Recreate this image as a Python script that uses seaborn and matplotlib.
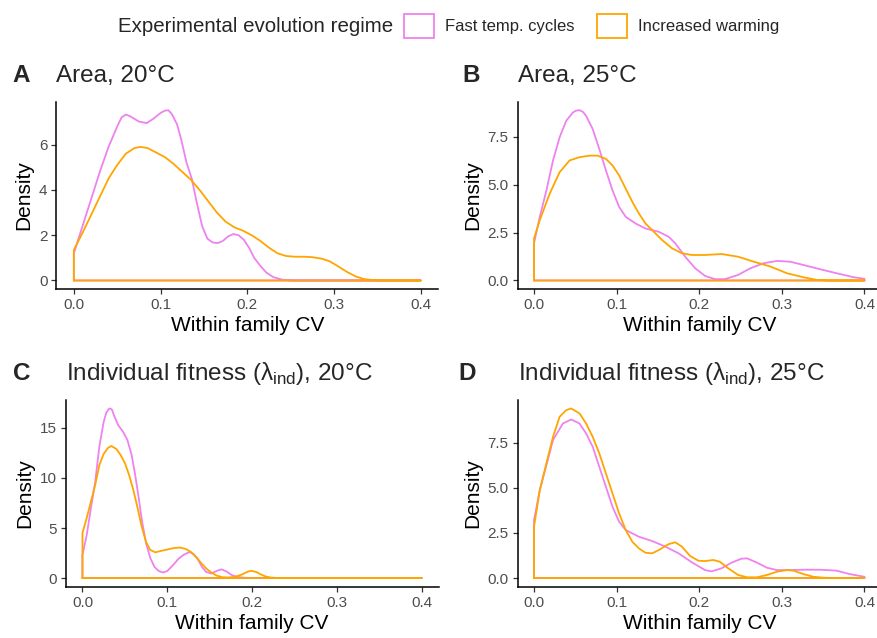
import matplotlib
matplotlib.use("Agg")
import matplotlib.pyplot as plt
from matplotlib.patches import Patch
from matplotlib.ticker import MultipleLocator, FormatStrFormatter
import pandas as pd
import seaborn as sns

REGIMES = ["Fast temp. cycles", "Increased warming"]
COLORS = {"Fast temp. cycles": "violet", "Increased warming": "orange"}

# ---- Area, 20 C ----
area20_fast_cv = [0, 0.01, 0.02, 0.03, 0.04, 0.05, 0.055, 0.06, 0.065, 0.075, 0.084, 0.092,
                  0.1, 0.105, 0.109, 0.113, 0.119, 0.124, 0.13, 0.136, 0.142, 0.148, 0.154,
                  0.16, 0.166, 0.172, 0.178, 0.184, 0.19, 0.196, 0.202, 0.208, 0.215, 0.222,
                  0.23, 0.24, 0.25, 0.4]
area20_fast_dens = [1.2, 2.4, 3.6, 4.8, 5.9, 6.8, 7.2, 7.33, 7.25, 7.02, 6.95, 7.15,
                    7.4, 7.5, 7.52, 7.35, 6.9, 6.2, 5.2, 4.5, 3.4, 2.4, 1.85,
                    1.68, 1.65, 1.75, 1.95, 2.05, 2.0, 1.8, 1.45, 1.0, 0.65, 0.35,
                    0.15, 0.04, 0.0, 0.0]
area20_warm_cv = [0, 0.01, 0.02, 0.03, 0.04, 0.05, 0.06, 0.07, 0.077, 0.085, 0.095, 0.105,
                  0.115, 0.125, 0.135, 0.145, 0.155, 0.165, 0.175, 0.185, 0.195, 0.205,
                  0.215, 0.225, 0.235, 0.245, 0.255, 0.265, 0.275, 0.285, 0.295, 0.305,
                  0.315, 0.325, 0.335, 0.345, 0.355, 0.4]
area20_warm_dens = [1.35, 2.1, 2.9, 3.7, 4.5, 5.1, 5.6, 5.85, 5.9, 5.85, 5.65, 5.45,
                    5.15, 4.8, 4.45, 4.0, 3.5, 3.0, 2.6, 2.35, 2.2, 2.0,
                    1.75, 1.45, 1.2, 1.08, 1.05, 1.05, 1.03, 0.97, 0.85, 0.62,
                    0.38, 0.18, 0.06, 0.02, 0.0, 0.0]

# ---- Area, 25 C ----
area25_fast_cv = [0, 0.007, 0.015, 0.023, 0.031, 0.039, 0.047, 0.051, 0.055, 0.059, 0.063,
                  0.071, 0.079, 0.087, 0.095, 0.103, 0.111, 0.123, 0.135, 0.151, 0.163,
                  0.171, 0.183, 0.195, 0.207, 0.219, 0.231, 0.247, 0.262, 0.278, 0.294,
                  0.31, 0.326, 0.346, 0.366, 0.387, 0.4]
area25_fast_dens = [1.94, 3.32, 4.7, 6.26, 7.47, 8.33, 8.76, 8.86, 8.88, 8.8, 8.59,
                    7.9, 6.86, 5.74, 4.7, 3.84, 3.32, 2.97, 2.71, 2.54, 2.28,
                    1.94, 1.24, 0.64, 0.24, 0.07, 0.07, 0.29, 0.64, 0.9, 1.02,
                    0.98, 0.81, 0.59, 0.38, 0.17, 0.09]
area25_warm_cv = [0, 0.007, 0.019, 0.031, 0.043, 0.055, 0.067, 0.077, 0.087, 0.095, 0.103,
                  0.111, 0.119, 0.127, 0.135, 0.145, 0.155, 0.167, 0.179, 0.191, 0.207,
                  0.227, 0.247, 0.266, 0.286, 0.306, 0.326, 0.342, 0.355, 0.4]
area25_warm_dens = [2.19, 3.15, 4.53, 5.65, 6.26, 6.43, 6.51, 6.51, 6.34, 6.0, 5.48,
                    4.79, 4.1, 3.49, 2.97, 2.54, 2.11, 1.68, 1.42, 1.33, 1.33,
                    1.38, 1.24, 0.98, 0.73, 0.38, 0.17, 0.03, 0.0, 0.0]

# ---- Individual fitness, 20 C ----
fit20_fast_cv = [0, 0.005, 0.01, 0.015, 0.02, 0.025, 0.028, 0.031, 0.033, 0.035, 0.037,
                 0.042, 0.048, 0.053, 0.058, 0.062, 0.066, 0.07, 0.075, 0.08, 0.085, 0.09,
                 0.095, 0.1, 0.107, 0.113, 0.119, 0.126, 0.131, 0.136, 0.141, 0.146,
                 0.152, 0.158, 0.164, 0.17, 0.176, 0.182, 0.19, 0.2, 0.4]
fit20_fast_dens = [2.3, 4.3, 7.0, 9.6, 13.2, 15.6, 16.5, 16.9, 16.95, 16.8, 16.3,
                   15.3, 14.6, 13.8, 12.3, 10.4, 8.2, 5.8, 3.5, 2.0, 1.1, 0.7,
                   0.55, 0.7, 1.3, 1.9, 2.3, 2.6, 2.4, 1.9, 1.1, 0.6,
                   0.45, 0.7, 0.87, 0.65, 0.3, 0.12, 0.03, 0.0, 0.0]
fit20_warm_cv = [0, 0.005, 0.01, 0.015, 0.02, 0.025, 0.03, 0.034, 0.04, 0.045, 0.05,
                 0.055, 0.06, 0.065, 0.07, 0.075, 0.08, 0.086, 0.092, 0.1, 0.108, 0.115,
                 0.122, 0.128, 0.134, 0.14, 0.146, 0.152, 0.158, 0.165, 0.172, 0.18,
                 0.188, 0.194, 0.199, 0.205, 0.21, 0.216, 0.222, 0.23, 0.4]
fit20_warm_dens = [4.5, 6.0, 7.65, 9.3, 11.3, 12.4, 13.0, 13.2, 12.9, 12.3, 11.5,
                   10.3, 8.8, 7.0, 5.1, 3.6, 2.8, 2.57, 2.7, 2.85, 3.0, 3.05,
                   2.9, 2.6, 2.1, 1.5, 0.95, 0.55, 0.25, 0.08, 0.05, 0.12,
                   0.35, 0.6, 0.73, 0.6, 0.38, 0.15, 0.05, 0.0, 0.0]

# ---- Individual fitness, 25 C ----
fit25_fast_cv = [0, 0.007, 0.023, 0.035, 0.045, 0.055, 0.063, 0.071, 0.079, 0.087, 0.095,
                 0.103, 0.111, 0.127, 0.143, 0.159, 0.175, 0.191, 0.207, 0.215, 0.227,
                 0.239, 0.251, 0.258, 0.27, 0.282, 0.294, 0.31, 0.326, 0.346, 0.366,
                 0.382, 0.4]
fit25_fast_dens = [3.2, 4.88, 7.65, 8.57, 8.79, 8.57, 8.02, 7.28, 6.17, 5.06, 3.95,
                   3.12, 2.66, 2.29, 2.05, 1.74, 1.37, 0.87, 0.44, 0.37, 0.54,
                   0.85, 1.07, 1.09, 0.85, 0.57, 0.44, 0.44, 0.46, 0.46, 0.41,
                   0.22, 0.07]
fit25_warm_cv = [0, 0.007, 0.015, 0.023, 0.031, 0.039, 0.045, 0.055, 0.063, 0.071, 0.079,
                 0.087, 0.095, 0.103, 0.111, 0.119, 0.127, 0.135, 0.143, 0.151, 0.163,
                 0.171, 0.179, 0.189, 0.199, 0.207, 0.217, 0.225, 0.235, 0.247, 0.258,
                 0.27, 0.282, 0.294, 0.306, 0.314, 0.326, 0.338, 0.35, 0.36, 0.4]
fit25_warm_dens = [2.85, 4.88, 6.36, 7.83, 8.94, 9.31, 9.4, 9.13, 8.57, 7.83, 6.91,
                   5.8, 4.69, 3.58, 2.66, 2.01, 1.64, 1.4, 1.37, 1.55, 1.88,
                   1.98, 1.74, 1.22, 0.96, 0.94, 1.0, 0.9, 0.54, 0.17, 0.04,
                   0.04, 0.17, 0.35, 0.44, 0.41, 0.22, 0.07, 0.02, 0.0, 0.0]

PANELS = [
    ("A", "Area, 20°C", area20_fast_cv, area20_fast_dens, area20_warm_cv, area20_warm_dens, 2, "%g"),
    ("B", "Area, 25°C", area25_fast_cv, area25_fast_dens, area25_warm_cv, area25_warm_dens, 2.5, "%.1f"),
    ("C", "Individual fitness (λ$_{\\mathrm{ind}}$), 20°C",
     fit20_fast_cv, fit20_fast_dens, fit20_warm_cv, fit20_warm_dens, 5, "%g"),
    ("D", "Individual fitness (λ$_{\\mathrm{ind}}$), 25°C",
     fit25_fast_cv, fit25_fast_dens, fit25_warm_cv, fit25_warm_dens, 2.5, "%.1f"),
]

W, H = 877, 638
# panel rectangles in pixels: left, top, right, bottom
RECTS = [(56.5, 101.7, 438, 289), (517.5, 101.7, 881, 289),
         (65.5, 400, 438.6, 586.5), (517.5, 400, 881, 586.5)]
TAG_X = [12, 462, 13, 458]


def closed_outline(cv, dens, regime):
    # geom_density style outline: up the left edge, along the curve, back on the baseline
    xs = [cv[0]] + list(cv) + [cv[-1], cv[0]]
    ys = [0.0] + list(dens) + [0.0, 0.0]
    return pd.DataFrame({"cv": xs, "density": ys, "regime": regime})


sns.set_theme(style="ticks")
plt.rcParams["font.family"] = ["Liberation Sans", "DejaVu Sans"]
plt.rcParams["mathtext.fontset"] = "custom"
plt.rcParams["mathtext.rm"] = "Liberation Sans"

fig = plt.figure(figsize=(W / 100, H / 100), dpi=100)

for (tag, title, fx, fy, wx, wy, ystep, yfmt), (l, t, r, b), tx in zip(PANELS, RECTS, TAG_X):
    ax = fig.add_axes([l / W, 1 - b / H, (r - l) / W, (b - t) / H])
    df = pd.concat([closed_outline(fx, fy, REGIMES[0]), closed_outline(wx, wy, REGIMES[1])],
                   ignore_index=True)
    sns.lineplot(data=df, x="cv", y="density", hue="regime", hue_order=REGIMES,
                 palette=COLORS, sort=False, estimator=None, lw=1.3, legend=False, ax=ax)
    ax.set_xlabel("Within family CV", fontsize=15, color="black", labelpad=3)
    ax.set_ylabel("Density", fontsize=15, color="black", labelpad=4)
    ax.xaxis.set_major_locator(MultipleLocator(0.1))
    ax.xaxis.set_major_formatter(FormatStrFormatter("%.1f"))
    ax.yaxis.set_major_locator(MultipleLocator(ystep))
    ax.yaxis.set_major_formatter(FormatStrFormatter(yfmt))
    ax.tick_params(labelsize=11, labelcolor="#4D4D4D", color="#333333", length=3.5,
                   width=0.9, pad=3)
    sns.despine(ax=ax)
    for side in ("left", "bottom"):
        ax.spines[side].set_color("black")
        ax.spines[side].set_linewidth(1.1)
    ax.set_title(title, loc="left", fontsize=17.5, pad=14.5)
    fig.text(tx / W, 1 - (t - 20) / H, tag, fontsize=17.5, fontweight="bold", va="baseline")

# legend on top, title to the left of the keys
fig.text(393 / W, 1 - 26 / H, "Experimental evolution regime", fontsize=14.8,
         ha="right", va="center")
handles = [Patch(facecolor="none", edgecolor=COLORS[r], linewidth=1.3, label=r) for r in REGIMES]
fig.legend(handles=handles, loc="center left", bbox_to_anchor=(404 / W, 1 - 26 / H),
           ncol=2, frameon=False, fontsize=12, handlelength=1.8, handleheight=1.8,
           handletextpad=0.65, columnspacing=1.35, borderpad=0, borderaxespad=0)

fig.savefig("out.png", dpi=100)
